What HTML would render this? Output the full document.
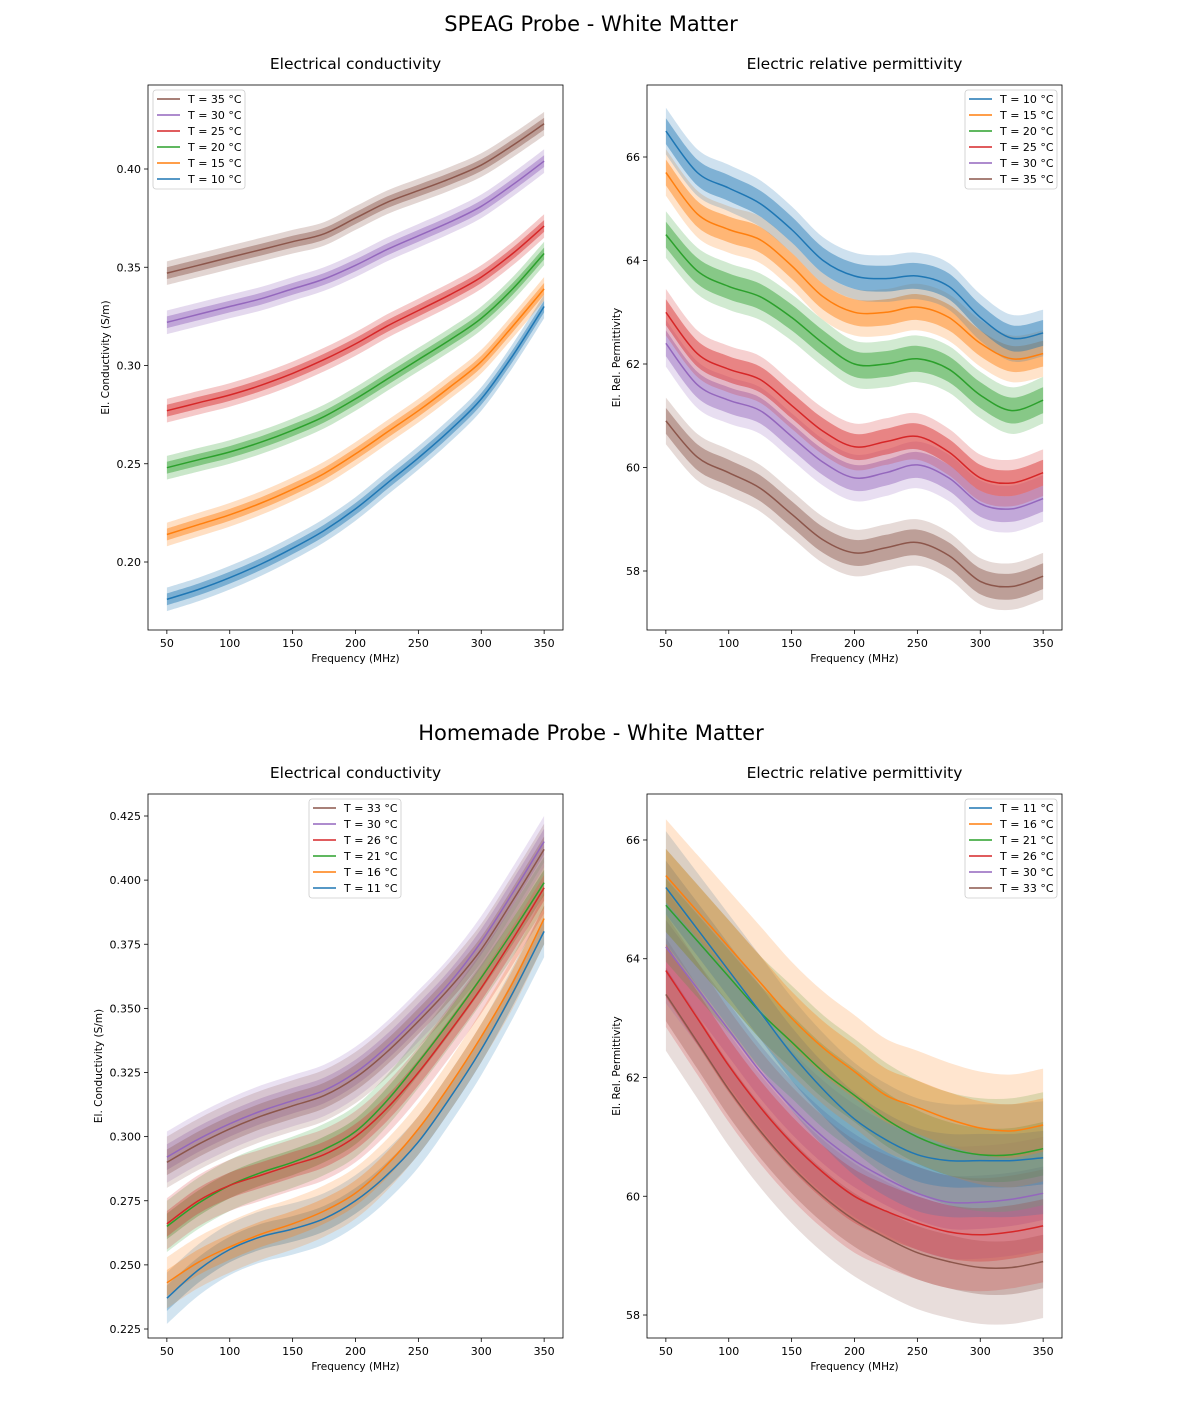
<!DOCTYPE html>
<html><head><meta charset="utf-8">
<style>
body{margin:0;background:#fff;}
svg text{font-family:"DejaVu Sans","Liberation Sans",sans-serif;fill:#000;}
</style></head>
<body>
<svg id="fig" width="1181" height="1417" xmlns="http://www.w3.org/2000/svg">
<rect width="1181" height="1417" fill="#fff"/>
<text x="591" y="31" font-size="21" text-anchor="middle">SPEAG Probe - White Matter</text>
<text x="591" y="740" font-size="21" text-anchor="middle">Homemade Probe - White Matter</text>
</svg>
<script>
const freqs=[50,75,100,125,150,175,200,225,250,275,300,325,350];
const xTicks=[50,100,150,200,250,300,350];
const C={blue:'#1f77b4',orange:'#ff7f0e',green:'#2ca02c',red:'#d62728',purple:'#9467bd',brown:'#8c564b'};

// Top-left: SPEAG conductivity
const tlLabels=['T = 35 °C','T = 30 °C','T = 25 °C','T = 20 °C','T = 15 °C','T = 10 °C'];
const tl35=[.347,.351,.355,.359,.363,.367,.375,.383,.389,.395,.402,.412,.423];
const tl30=[.322,.326,.330,.334,.339,.344,.351,.359,.366,.373,.381,.392,.404];
const tl25=[.277,.281,.285,.290,.296,.303,.311,.320,.328,.336,.345,.357,.371];
const tl20=[.248,.252,.256,.261,.267,.274,.283,.293,.303,.313,.324,.339,.357];
const tl15=[.214,.219,.224,.230,.237,.245,.255,.266,.277,.289,.302,.320,.339];
const tl10=[.181,.186,.192,.199,.207,.216,.227,.240,.253,.267,.283,.305,.330];
const tlYTicks=[0.20,0.25,0.30,0.35,0.40];

// Top-right: SPEAG permittivity
const trLabels=['T = 10 °C','T = 15 °C','T = 20 °C','T = 25 °C','T = 30 °C','T = 35 °C'];
const tr10=[66.5,65.7,65.4,65.1,64.6,64.0,63.7,63.65,63.7,63.5,62.9,62.5,62.6];
const tr15=[65.7,64.9,64.6,64.4,63.9,63.3,63.0,63.0,63.1,62.9,62.4,62.1,62.2];
const tr20=[64.5,63.8,63.5,63.3,62.9,62.4,62.0,62.0,62.1,61.9,61.4,61.1,61.3];
const tr25=[63.0,62.2,61.9,61.7,61.2,60.7,60.4,60.5,60.6,60.3,59.8,59.7,59.9];
const tr30=[62.4,61.6,61.3,61.1,60.6,60.1,59.8,59.9,60.05,59.8,59.3,59.2,59.4];
const tr35=[60.9,60.2,59.9,59.6,59.1,58.6,58.35,58.45,58.55,58.3,57.8,57.7,57.9];
const trYTicks=[58,60,62,64,66];

// Bottom-left: homemade conductivity
const blLabels=['T = 33 °C','T = 30 °C','T = 26 °C','T = 21 °C','T = 16 °C','T = 11 °C'];
const bl33=[.290,.297,.303,.308,.312,.316,.323,.333,.345,.358,.373,.392,.412];
const bl30=[.292,.299,.305,.310,.314,.318,.325,.335,.347,.360,.376,.395,.415];
const bl26=[.266,.275,.281,.285,.289,.293,.300,.311,.325,.341,.358,.377,.397];
const bl21=[.265,.274,.281,.286,.290,.295,.302,.314,.329,.345,.362,.380,.399];
const bl16=[.243,.251,.257,.262,.266,.271,.278,.289,.303,.320,.339,.360,.385];
const bl11=[.237,.248,.256,.261,.264,.268,.275,.285,.298,.315,.334,.356,.380];
const blYTicks=[0.225,0.250,0.275,0.300,0.325,0.350,0.375,0.400,0.425];

// Bottom-right: homemade permittivity
const brLabels=['T = 11 °C','T = 16 °C','T = 21 °C','T = 26 °C','T = 30 °C','T = 33 °C'];
const br11=[65.2,64.5,63.8,63.1,62.4,61.8,61.3,60.95,60.7,60.6,60.6,60.6,60.65];
const br16=[65.4,64.8,64.2,63.6,63.0,62.5,62.1,61.7,61.5,61.3,61.15,61.1,61.2];
const br21=[64.9,64.3,63.7,63.1,62.6,62.1,61.7,61.3,61.0,60.8,60.7,60.7,60.8];
const br26=[63.8,63.0,62.2,61.5,60.9,60.4,60.0,59.75,59.55,59.4,59.35,59.4,59.5];
const br30=[64.2,63.5,62.8,62.1,61.5,61.0,60.6,60.3,60.05,59.9,59.9,59.95,60.05];
const br33=[63.4,62.6,61.8,61.1,60.5,60.0,59.6,59.3,59.05,58.9,58.8,58.8,58.9];
const brYTicks=[58,60,62,64,66];

const NS='http://www.w3.org/2000/svg';
const fig=document.getElementById('fig');
function mk(tag,attrs,parent){const e=document.createElementNS(NS,tag);for(const k in attrs)e.setAttribute(k,attrs[k]);(parent||fig).appendChild(e);return e;}

function smooth(pts){
  let d='M'+pts[0][0].toFixed(1)+','+pts[0][1].toFixed(1);
  for(let i=0;i<pts.length-1;i++){
    const p0=pts[i-1]||pts[i],p1=pts[i],p2=pts[i+1],p3=pts[i+2]||p2;
    const c1=[p1[0]+(p2[0]-p0[0])/6,p1[1]+(p2[1]-p0[1])/6];
    const c2=[p2[0]-(p3[0]-p1[0])/6,p2[1]-(p3[1]-p1[1])/6];
    d+='C'+c1[0].toFixed(1)+','+c1[1].toFixed(1)+' '+c2[0].toFixed(1)+','+c2[1].toFixed(1)+' '+p2[0].toFixed(1)+','+p2[1].toFixed(1);
  }
  return d;
}
function bandPath(sx,sy,vals,w){
  const up=freqs.map((f,i)=>[sx(f),sy(vals[i]+w)]);
  const dn=freqs.map((f,i)=>[sx(f),sy(vals[i]-w)]).reverse();
  return smooth(up)+smooth(dn).replace('M','L')+'Z';
}

function panel(o){
  const {L,T,W,H,xmin,xmax,ymin,ymax,yticks,fmt,title,ylabel,series,legend,name,inner,outer,oa,ia}=o;
  const g=mk('g',{});
  
  
  const sx=f=>L+(f-xmin)/(xmax-xmin)*W;
  const sy=v=>T+H-(v-ymin)/(ymax-ymin)*H;
  const clip=mk('clipPath',{id:'c'+name},g);
  mk('rect',{x:L,y:T,width:W,height:H},clip);
  const pg=mk('g',{'clip-path':'url(#c'+name+')'},g);
  series.forEach(s=>{
    const b1=mk('path',{d:bandPath(sx,sy,s.v,outer),fill:s.c,'fill-opacity':oa},pg);
    
    
    const b2=mk('path',{d:bandPath(sx,sy,s.v,inner),fill:s.c,'fill-opacity':ia},pg);
    
    
  });
  series.forEach(s=>{
    const ln=mk('path',{d:smooth(freqs.map((f,i)=>[sx(f),sy(s.v[i])])),fill:'none',stroke:s.c,'stroke-width':1.5},pg);
    
    
  });
  const fr=mk('rect',{x:L,y:T,width:W,height:H,fill:'none',stroke:'#000','stroke-width':0.8},g);
  
  
  xTicks.forEach(t=>{
    const x=sx(t);
    mk('line',{x1:x,x2:x,y1:T+H,y2:T+H+4,stroke:'#000','stroke-width':0.8},g);
    const tx=mk('text',{x:x,y:T+H+17,'font-size':11,'text-anchor':'middle'},g);
    tx.textContent=t;
    
    
  });
  yticks.forEach(t=>{
    const y=sy(t);
    mk('line',{x1:L-4,x2:L,y1:y,y2:y,stroke:'#000','stroke-width':0.8},g);
    const tx=mk('text',{x:L-7,y:y+4,'font-size':11,'text-anchor':'end'},g);
    tx.textContent=fmt(t);
    
    
  });
  const tt=mk('text',{x:L+W/2,y:T-16,'font-size':15.5,'text-anchor':'middle'},g);
  tt.textContent=title;
  
  
  const xl=mk('text',{x:L+W/2,y:T+H+32,'font-size':10.5,'text-anchor':'middle'},g);
  xl.textContent='Frequency (MHz)';
  
  
  const yl=mk('text',{x:0,y:0,'font-size':10.5,'text-anchor':'middle',transform:'translate('+o.ylx+','+(T+H/2)+') rotate(-90)'},g);
  yl.textContent=ylabel;
  
  
  const lg=mk('g',{},g);
  
  
  mk('rect',{x:legend.x,y:legend.y,width:92,height:99,rx:3,fill:'#fff','fill-opacity':0.85,stroke:'#ccc','stroke-width':0.8},lg);
  legend.items.forEach((it,i)=>{
    const y=legend.y+9+i*16;
    const e=mk('g',{},lg);
    
    
    mk('line',{x1:legend.x+4,x2:legend.x+27,y1:y,y2:y,stroke:it.c,'stroke-width':1.5},e);
    const t=mk('text',{x:legend.x+35,y:y+4,'font-size':11},e);
    t.textContent=it.l;
  });
}

const dark=['brown','purple','red','green','orange','blue'];
const light=['blue','orange','green','red','purple','brown'];

panel({name:'speag-conductivity',L:148,T:85,W:415,H:545,xmin:35,xmax:365,
  ymin:0.20-(630-562)/1965,ymax:0.40+(169-85)/1965,yticks:tlYTicks,fmt:t=>t.toFixed(2),
  title:'Electrical conductivity',ylabel:'El. Conductivity (S/m)',ylx:109,inner:0.003,outer:0.006,ia:0.45,oa:0.25,
  series:[{id:'10',v:tl10,c:C.blue},{id:'15',v:tl15,c:C.orange},{id:'20',v:tl20,c:C.green},{id:'25',v:tl25,c:C.red},{id:'30',v:tl30,c:C.purple},{id:'35',v:tl35,c:C.brown}],
  legend:{x:153,y:90,items:dark.map((k,i)=>({c:C[k],l:tlLabels[i]}))}});
panel({name:'speag-permittivity',L:647,T:85,W:415,H:545,xmin:35,xmax:365,
  ymin:58-(630-571)/51.75,ymax:66+(157-85)/51.75,yticks:trYTicks,fmt:t=>t,
  title:'Electric relative permittivity',ylabel:'El. Rel. Permittivity',ylx:620,inner:0.25,outer:0.45,ia:0.45,oa:0.22,
  series:[{id:'35',v:tr35,c:C.brown},{id:'30',v:tr30,c:C.purple},{id:'25',v:tr25,c:C.red},{id:'20',v:tr20,c:C.green},{id:'15',v:tr15,c:C.orange},{id:'10',v:tr10,c:C.blue}],
  legend:{x:965,y:90,items:light.map((k,i)=>({c:C[k],l:trLabels[i]}))}});
panel({name:'homemade-conductivity',L:148,T:794,W:415,H:544,xmin:35,xmax:365,
  ymin:0.225-(1338-1329)/2565,ymax:0.425+(816-794)/2565,yticks:blYTicks,fmt:t=>t.toFixed(3),
  title:'Electrical conductivity',ylabel:'El. Conductivity (S/m)',ylx:102,inner:0.005,outer:0.01,ia:0.3,oa:0.2,
  series:[{id:'11',v:bl11,c:C.blue},{id:'16',v:bl16,c:C.orange},{id:'21',v:bl21,c:C.green},{id:'26',v:bl26,c:C.red},{id:'30',v:bl30,c:C.purple},{id:'33',v:bl33,c:C.brown}],
  legend:{x:309,y:799,items:dark.map((k,i)=>({c:C[k],l:blLabels[i]}))}});
panel({name:'homemade-permittivity',L:647,T:794,W:415,H:544,xmin:35,xmax:365,
  ymin:58-(1338-1315)/59.4,ymax:66+(840-794)/59.4,yticks:brYTicks,fmt:t=>t,
  title:'Electric relative permittivity',ylabel:'El. Rel. Permittivity',ylx:620,inner:0.45,outer:0.95,ia:0.3,oa:0.2,
  series:[{id:'33',v:br33,c:C.brown},{id:'30',v:br30,c:C.purple},{id:'26',v:br26,c:C.red},{id:'21',v:br21,c:C.green},{id:'11',v:br11,c:C.blue},{id:'16',v:br16,c:C.orange}],
  legend:{x:965,y:799,items:light.map((k,i)=>({c:C[k],l:brLabels[i]}))}});
</script>
</body></html>
